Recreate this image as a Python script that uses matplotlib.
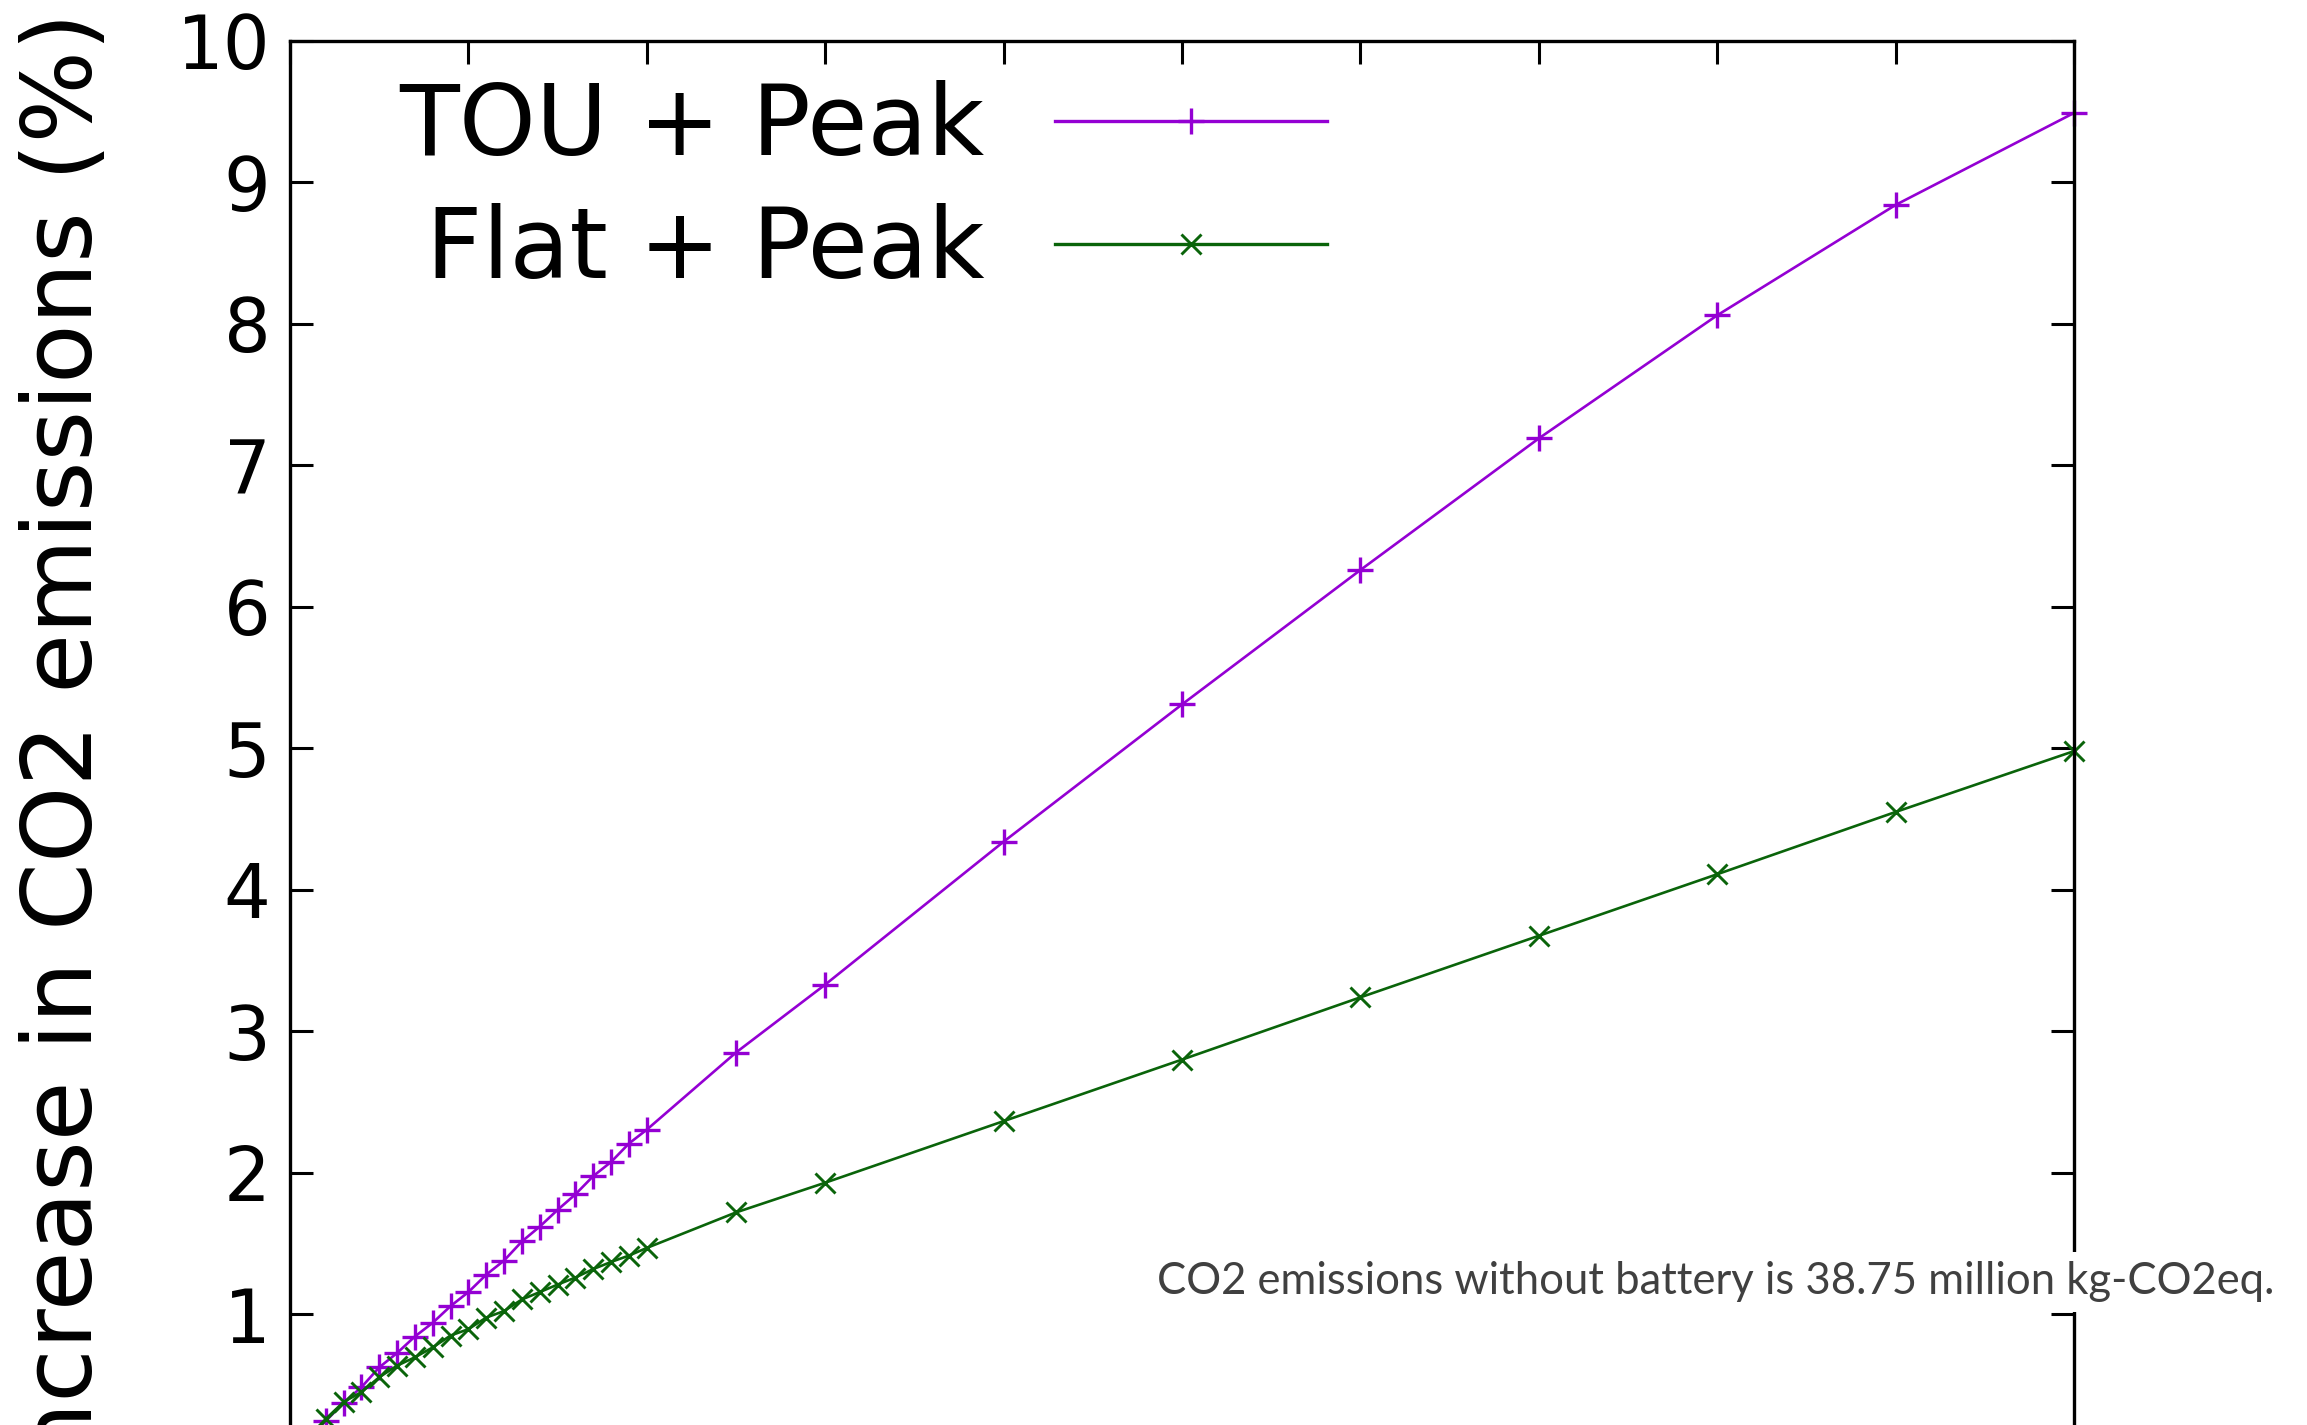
import matplotlib
matplotlib.use('Agg')
import matplotlib.pyplot as plt

# battery size steps (x axis, in tick units; bottom of the chart is cropped)
x_values = [0.1, 0.2, 0.3, 0.4, 0.5, 0.6, 0.7, 0.8, 0.9, 1.0,
            1.1, 1.2, 1.3, 1.4, 1.5, 1.6, 1.7, 1.8, 1.9, 2.0,
            2.5, 3, 4, 5, 6, 7, 8, 9, 10]

# increase in CO2 emissions (%)
tou_peak = [0.12, 0.245, 0.375, 0.484, 0.625, 0.726, 0.843, 0.94, 1.058, 1.157,
            1.28, 1.38, 1.515, 1.62, 1.738, 1.848, 1.977, 2.077, 2.207, 2.305,
            2.85, 3.33, 4.34, 5.31, 6.26, 7.19, 8.06, 8.84, 9.49]
flat_peak = [0.13, 0.26, 0.38, 0.45, 0.555, 0.637, 0.696, 0.766, 0.85, 0.895,
             0.977, 1.023, 1.105, 1.157, 1.21, 1.26, 1.32, 1.37, 1.415, 1.469,
             1.72, 1.93, 2.365, 2.80, 3.24, 3.675, 4.11, 4.55, 4.98]

series_labels = ['TOU + Peak', 'Flat + Peak']
note_text = 'CO2 emissions without battery is 38.75 million kg-CO2eq.'
y_label = 'Increase in CO2 emissions (%)'
x_ticks = list(range(0, 11))
y_ticks = list(range(0, 11))

W, H = 2307, 1425
fig = plt.figure(figsize=(W / 100, H / 100), dpi=100)

# axes reach below the bottom edge: the reference image is cropped there
left, right, top, y0 = 290, 2074, 40.8, 1455.8
ax = fig.add_axes([left / W, (H - y0) / H, (right - left) / W, (y0 - top) / H])

ax.plot(x_values, tou_peak, color='#9400D3', lw=1.9, marker='+', ms=19, mew=2.4,
        label=series_labels[0], clip_on=False)
ax.plot(x_values, flat_peak, color='#0a640a', lw=1.9, marker='x', ms=15, mew=2.1,
        label=series_labels[1], clip_on=False)

ax.set_xlim(0, 10)
ax.set_ylim(0, 10)
ax.set_xticks(x_ticks)
ax.set_yticks(y_ticks)
ax.set_xticklabels([])
ax.tick_params(axis='both', direction='in', length=16.5, width=2.2,
               top=True, right=True, labelsize=53, pad=14)
for s in ax.spines.values():
    s.set_linewidth(2.4)

leg = ax.legend(loc='upper right', bbox_to_anchor=(1327 / W, 1 - 80 / H),
                bbox_transform=fig.transFigure, markerfirst=False, frameon=False,
                fontsize=70.5, handlelength=2.78, handletextpad=0.72,
                labelspacing=0.285, borderpad=0, borderaxespad=0, numpoints=1)
for h in leg.get_lines():
    h.set_linewidth(2.4)

fig.text(92 / W, 1 - 12 / H, y_label, rotation=90, rotation_mode='anchor',
         ha='right', va='baseline', fontsize=70)

fig.text((1158 + 2273) / 2 / W, 1 - 1282 / H, note_text, ha='center', va='center',
         fontsize=31.4, color='#404040', family='Lato',
         bbox=dict(facecolor='white', edgecolor='none', pad=7))

fig.savefig('out.png', dpi=100)
